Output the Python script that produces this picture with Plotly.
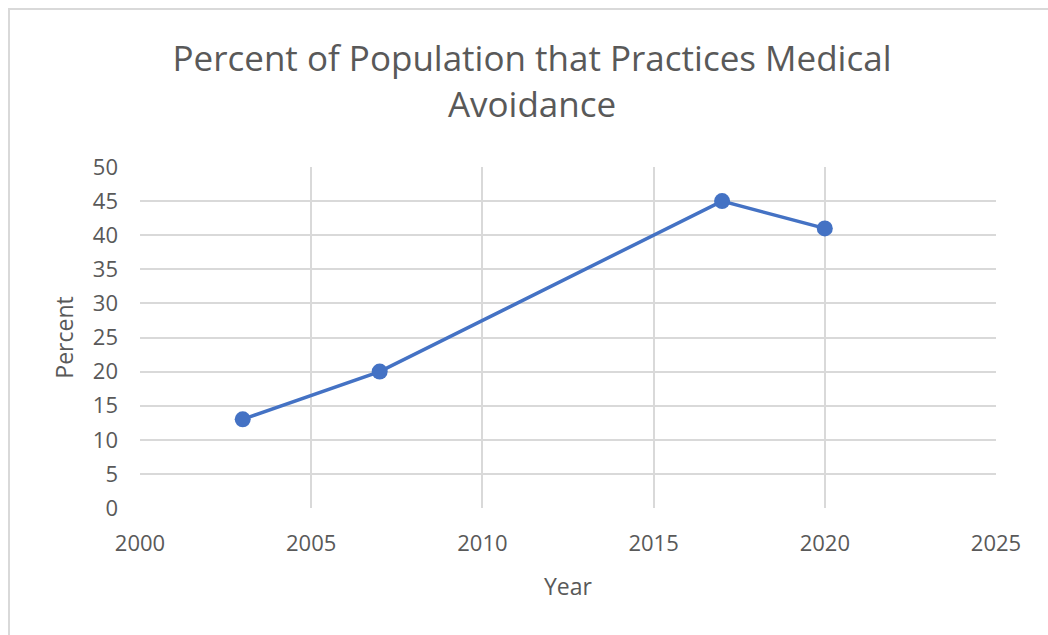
import plotly.graph_objects as go

years = [2003, 2007, 2017, 2020]
percent = [13, 20, 45, 41]

W, H = 1048, 635
L, R, T, B = 140, 52, 167, 127
pw, ph = W - L - R, H - T - B

def px_to_paper_x(px):
    return (px - L) / pw

def px_to_paper_y(py):
    return (H - B - py) / ph

TEXT = "#595959"
GRID = "#D9D9D9"
FONT = "Open Sans"

fig = go.Figure()
fig.add_trace(go.Scatter(
    x=years, y=percent, mode="lines+markers",
    line=dict(color="#4472C4", width=3.5),
    marker=dict(color="#4472C4", size=16),
    showlegend=False,
))

fig.update_layout(
    width=W, height=H,
    margin=dict(l=L, r=R, t=T, b=B),
    paper_bgcolor="white", plot_bgcolor="white",
    font=dict(family=FONT, color=TEXT),
    title=dict(
        text="Percent of Population that Practices Medical<br>Avoidance",
        x=px_to_paper_x(532), xref="paper", xanchor="center",
        y=1 - 71 / H, yref="container", yanchor="middle",
        font=dict(family=FONT, size=35, color=TEXT),
    ),
    xaxis=dict(
        range=[2000, 2025], tick0=2000, dtick=5,
        showgrid=True, gridcolor=GRID, gridwidth=2,
        showline=False, zeroline=False,
        ticks="", ticklabelstandoff=20,
        tickfont=dict(family=FONT, size=22, color=TEXT),
        title=dict(text="Year", font=dict(family=FONT, size=23, color=TEXT), standoff=22),
    ),
    yaxis=dict(
        range=[0, 50], tick0=0, dtick=5,
        showgrid=True, gridcolor=GRID, gridwidth=2,
        showline=False, zeroline=False,
        ticks="", ticklabelstandoff=21,
        tickfont=dict(family=FONT, size=22, color=TEXT),
        title=dict(text="Percent", font=dict(family=FONT, size=23, color=TEXT), standoff=12),
    ),
    shapes=[
        dict(type="rect", xref="paper", yref="paper",
             x0=px_to_paper_x(9), x1=px_to_paper_x(1080),
             y0=px_to_paper_y(9), y1=px_to_paper_y(700),
             line=dict(color=GRID, width=2), layer="below"),
    ],
)

fig.write_html("out.html")
